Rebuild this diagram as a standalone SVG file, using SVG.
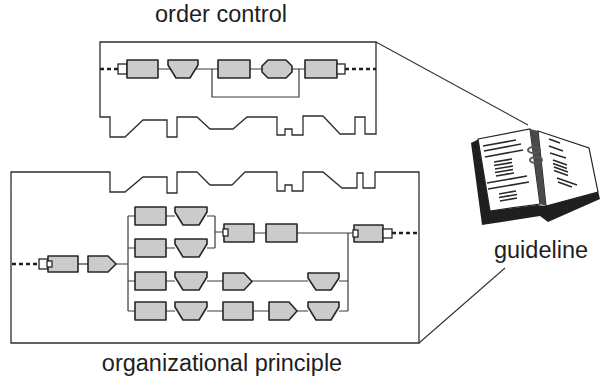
<svg xmlns="http://www.w3.org/2000/svg" width="601" height="380" viewBox="0 0 601 380">
  <style>
    .panel { fill: none; stroke: #2e2e2e; stroke-width: 1.3; stroke-linejoin: miter; }
    .blk { fill: #cbcbcb; stroke: #262626; stroke-width: 1.6; stroke-linejoin: round; }
    .port { fill: #ffffff; stroke: #262626; stroke-width: 1.3; }
    .wire { fill: none; stroke: #3a3a3a; stroke-width: 1.2; }
    .dash { fill: none; stroke: #1e1e1e; stroke-width: 2.4; stroke-dasharray: 4 3; }
    .lead { fill: none; stroke: #333; stroke-width: 1.1; }
    .lbl { font-family: "Liberation Sans", Arial, sans-serif; font-size: 23.5px; fill: #1e1e1e; text-anchor: middle; }
    .ink { fill: none; stroke: #2a2a2a; stroke-width: 1.6; }
  </style>

  <!-- panel titles -->
  <text class="lbl" x="221" y="22">order control</text>
  <text class="lbl" x="222" y="371">organizational principle</text>
  <text class="lbl" x="541" y="258">guideline</text>

  <!-- panel outlines with the notched profile -->
  <g id="panel-order">
    <path class="panel" d="M100,42 H376 V134 H365 V117 H355 V134 H340 L323,116 H303 V135 H292 V129 H285 V135 H277 V117 H247 L233,129 H210 L197,117 H177 V137 H167 V120 H143 L125,137 H110 V117 H100 Z"/>
  </g>
  <g id="panel-organization">
    <path class="panel" d="M11,172 H110 V192 H125 L143,177 H167 V193 H177 V172 H197 L210,185 H232 L245,172 H277 V191 H285 V185 H292 V191 H303 V172 H323 L342,188 H357 V173 H363 V188 H375 V172 H419 V343 H11 Z"/>
  </g>

  <!-- connectors -->
  <g id="connectors">
    <!-- order control chain -->
    <path class="dash" d="M100,69 H118"/>
    <path class="wire" d="M127,69 H305"/>
    <path class="wire" d="M212,69 V97 H299 V69"/>
    <path class="dash" d="M345,69 H376"/>
    <!-- organizational chain -->
    <path class="dash" d="M12,264 H39"/>
    <path class="wire" d="M78,264 H88"/>
    <path class="wire" d="M116,264 H128 M128,216 V311"/>
    <path class="wire" d="M128,216 H135 M166,216 H175 M207,216 H215"/>
    <path class="wire" d="M128,248 H135 M166,248 H175 M207,248 H215"/>
    <path class="wire" d="M215,216 V248 M215,232 H224"/>
    <path class="wire" d="M254,233 H266 M297,233 H354"/>
    <path class="wire" d="M128,281 H135 M166,281 H175 M207,281 H223 M252,281 H308 M339,281 H348"/>
    <path class="wire" d="M128,311 H135 M166,311 H175 M207,311 H223 M253,311 H269 M297,311 H308 M339,311 H348"/>
    <path class="wire" d="M348,233 V311"/>
    <path class="dash" d="M392,233 H419"/>
    <!-- leader lines to the guideline -->
    <path class="lead" d="M376,42 L528,125"/>
    <path class="lead" d="M419,343 L505,268"/>
  </g>

  <!-- order control nodes -->
  <g id="oc-in">
    <rect class="port" x="118" y="64" width="9" height="10"/>
    <rect class="blk" x="127" y="60" width="31" height="18"/>
  </g>
  <g id="oc-b2"><polygon class="blk" points="168,60 198,60 198,65 190,78 176,78 168,65"/></g>
  <g id="oc-b3"><rect class="blk" x="218" y="60" width="32" height="18"/></g>
  <g id="oc-b4"><polygon class="blk" points="268,60 286,60 292,66 292,72 286,78 268,78 262,72 262,66"/></g>
  <g id="oc-out">
    <rect class="blk" x="305" y="60" width="32" height="18"/>
    <rect class="port" x="337" y="64" width="8" height="10"/>
  </g>

  <!-- organizational principle nodes -->
  <g id="op-in">
    <rect class="port" x="39" y="259" width="9" height="10"/>
    <rect class="blk" x="48" y="256" width="30" height="16"/>
    <rect class="port" x="47" y="261" width="5" height="6"/>
  </g>
  <g id="op-split"><polygon class="blk" points="88,256 108,256 116,264 108,272 88,272"/></g>

  <g id="op-r1a"><rect class="blk" x="135" y="207" width="31" height="18"/></g>
  <g id="op-r1b"><polygon class="blk" points="175,207 207,207 207,212 199,225 183,225 175,212"/></g>
  <g id="op-r2a"><rect class="blk" x="135" y="239" width="31" height="18"/></g>
  <g id="op-r2b"><polygon class="blk" points="175,239 207,239 207,244 199,257 183,257 175,244"/></g>
  <g id="op-join">
    <rect class="blk" x="224" y="224" width="30" height="18"/>
    <rect class="port" x="223" y="229" width="5" height="7"/>
  </g>
  <g id="op-r1c"><rect class="blk" x="266" y="224" width="31" height="18"/></g>

  <g id="op-r3a"><rect class="blk" x="135" y="272" width="31" height="18"/></g>
  <g id="op-r3b"><polygon class="blk" points="175,272 207,272 207,277 199,290 183,290 175,277"/></g>
  <g id="op-r3c"><polygon class="blk" points="223,273 244,273 252,281.5 244,290 223,290"/></g>
  <g id="op-r3d"><polygon class="blk" points="308,273 339,273 339,278 331,290 316,290 308,278"/></g>

  <g id="op-r4a"><rect class="blk" x="135" y="302" width="31" height="18"/></g>
  <g id="op-r4b"><polygon class="blk" points="175,302 207,302 207,307 199,320 183,320 175,307"/></g>
  <g id="op-r4c"><rect class="blk" x="223" y="302" width="30" height="18"/></g>
  <g id="op-r4d"><polygon class="blk" points="269,302 289,302 297,311 289,320 269,320"/></g>
  <g id="op-r4e"><polygon class="blk" points="308,302 339,302 339,307 331,320 316,320 308,307"/></g>

  <g id="op-out">
    <rect class="blk" x="354" y="225" width="29" height="17"/>
    <rect class="port" x="353" y="230" width="5" height="7"/>
    <rect class="port" x="383" y="229" width="9" height="9"/>
  </g>

  <!-- open ring binder -->
  <g id="guideline-book">
    <polygon fill="#1f1f1f" points="471,143 479,139 490,211 537,205 546,206 598,191 600,199 548,222 540,216 482,225"/>
    <polygon fill="#ffffff" stroke="#222" stroke-width="1.2" points="478,139 530,129 540,204 490,211"/>
    <polygon fill="#ffffff" stroke="#222" stroke-width="1.2" points="538,131 589,148 598,192 546,206"/>
    <polygon fill="#4a4a4a" points="530,129 538,131 546,206 540,204"/>
    <ellipse cx="534" cy="150" rx="6" ry="3" fill="none" stroke="#555" stroke-width="2"/>
    <ellipse cx="536" cy="160" rx="6" ry="3" fill="none" stroke="#555" stroke-width="2"/>
    <!-- left page writing -->
    <path class="ink" d="M483,146 L516,140 M484,151 L521,144 M485,157 L523,150
      M494,162 L512,159 M494,165.5 L512,162.5 M495,169 L513,166 M495,172.5 L513,169.5 M496,176 L514,173
      M487,183 L527,176 M488,189 L529,182
      M499,194 L516,191 M499,197.5 L517,194.5 M500,201 L517,198"/>
    <!-- right page writing -->
    <path class="ink" d="M549,139 L560,143 M549,146 L563,151 M550,153 L566,158
      M553,160 L567,165 M553,163.5 L567,168.5 M554,167 L568,172 M554,170.5 L568,175.5
      M557,178 L577,185 M558,182 L572,187"/>
  </g>
</svg>
